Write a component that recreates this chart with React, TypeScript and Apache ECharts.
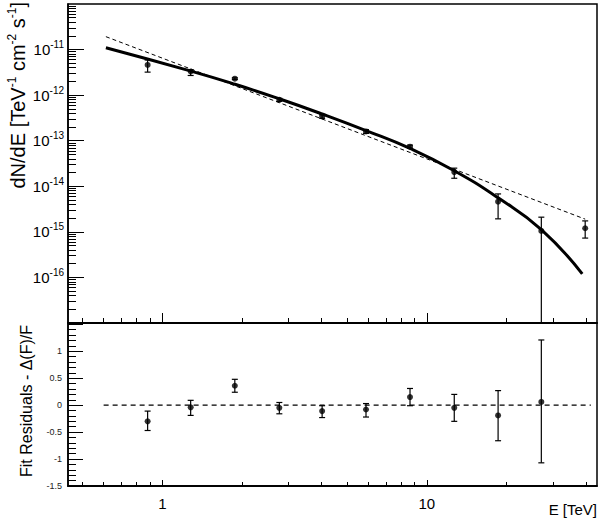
import React, { useEffect, useRef } from 'react';
import * as echarts from 'echarts';

// ---- data ----
const energy = [0.88, 1.28, 1.88, 2.77, 4.02, 5.89, 8.64, 12.7, 18.6, 27.1, 39.7];
const flux = [4.6e-12, 3.3e-12, 2.3e-12, 7.9e-13, 3.4e-13, 1.6e-13, 7.4e-14, 2.05e-14, 4.6e-15, 1.05e-15, 1.2e-15];
const fluxHigh = [5.9e-12, 3.6e-12, 2.4e-12, 8.5e-13, 3.7e-13, 1.75e-13, 8.0e-14, 2.5e-14, 6.8e-15, 2.1e-15, 1.74e-15];
const fluxLow = [3.2e-12, 2.7e-12, 2.2e-12, 7.3e-13, 3.1e-13, 1.45e-13, 6.8e-14, 1.5e-14, 1.93e-15, 0, 7.3e-16];

const residual = [-0.3, -0.04, 0.36, -0.05, -0.11, -0.08, 0.15, -0.05, -0.19, 0.06];
const residualHigh = [-0.11, 0.09, 0.48, 0.05, -0.01, 0.03, 0.31, 0.2, 0.27, 1.21];
const residualLow = [-0.47, -0.19, 0.24, -0.16, -0.23, -0.22, -0.01, -0.3, -0.66, -1.07];

const fitEnergy = [0.612, 1.284, 1.884, 2.766, 4.02, 5.89, 8.64, 12.7, 18.6, 27.1, 38.7];
const fitFlux = [1.1e-11, 3.37e-12, 1.73e-12, 8.32e-13, 3.86e-13, 1.67e-13, 6.76e-14, 2.19e-14, 5.58e-15, 1.12e-15, 1.2e-16];

const powerLawEnergy = [0.612, 39.7];
const powerLawFlux = [1.92e-11, 1.9e-15];

const zeroLineEnergy = [0.6, 41.7];

const xRange = [0.44, 44];
const yDecadeRange = [-17, -10];
const residualRange = [-1.5, 1.525];

const xMajorTicks = [1, 10];
const xMinorTicks = [0.5, 0.6, 0.7, 0.8, 0.9, 2, 3, 4, 5, 6, 7, 8, 9, 20, 30, 40];
const yLabelDecades = [-16, -15, -14, -13, -12, -11];
const decadeMultipliers = [2, 3, 4, 5, 6, 7, 8, 9];
const residualLabels = [-1.5, -1, -0.5, 0, 0.5, 1];
const residualMajorTicks = [-1.5, -1, -0.5, 0, 0.5, 1, 1.5];

const FONT = '"Liberation Sans", Arial, Helvetica, sans-serif';
const lg = Math.log10;

function xAxis(grid: number, ticks: number[], len: number, labels: boolean) {
  return {
    type: 'value',
    gridIndex: grid,
    position: 'bottom',
    min: lg(xRange[0]),
    max: lg(xRange[1]),
    axisLine: { show: true, onZero: false, lineStyle: { color: '#000', width: 1.5 } },
    axisTick: { show: true, inside: true, length: len, customValues: ticks.map(lg), lineStyle: { color: '#000', width: 1 } },
    axisLabel: labels
      ? {
          show: true,
          customValues: xMajorTicks.map(lg),
          formatter: (v: number) => String(Math.round(Math.pow(10, v))),
          fontFamily: FONT,
          fontSize: 15,
          color: '#000',
          margin: 10,
        }
      : { show: false },
    splitLine: { show: false },
  };
}

export default function App() {
  const ref = useRef<HTMLDivElement>(null);

  useEffect(() => {
    if (!ref.current) return;
    const chart = echarts.init(ref.current, undefined, { renderer: 'svg' });

    const yMinor: number[] = [];
    for (let d = yDecadeRange[0]; d < yDecadeRange[1]; d++) {
      decadeMultipliers.forEach((m) => yMinor.push(d + lg(m)));
    }
    const resMinor: number[] = [];
    for (let i = -14; i <= 15; i++) {
      if (i % 5 !== 0) resMinor.push(i / 10);
    }

    const errItem = (params: any, api: any) => {
      const x = api.value(0);
      const top = api.coord([x, api.value(1)]);
      const bot = api.coord([x, api.value(2)]);
      const capLow = api.value(3);
      const cw = 3;
      const style = { stroke: '#000', lineWidth: 1.2 };
      const children: any[] = [
        { type: 'line', shape: { x1: top[0], y1: top[1], x2: bot[0], y2: bot[1] }, style },
        { type: 'line', shape: { x1: top[0] - cw, y1: top[1], x2: top[0] + cw, y2: top[1] }, style },
      ];
      if (capLow) {
        children.push({ type: 'line', shape: { x1: bot[0] - cw, y1: bot[1], x2: bot[0] + cw, y2: bot[1] }, style });
      }
      return { type: 'group', children };
    };

    const fluxErr = energy.map((e, i) => [
      lg(e),
      lg(fluxHigh[i]),
      fluxLow[i] > 0 ? lg(fluxLow[i]) : yDecadeRange[0],
      fluxLow[i] > 0 ? 1 : 0,
    ]);
    const resErr = residual.map((r, i) => [lg(energy[i]), residualHigh[i], residualLow[i], 1]);

    const yBase = {
      type: 'value',
      position: 'left',
      splitLine: { show: false },
    };

    const option: any = {
      animation: false,
      backgroundColor: '#fff',
      textStyle: { fontFamily: FONT },
      grid: [
        { left: 68, top: 4, width: 529, height: 319, show: true, borderColor: '#000', borderWidth: 1.5, backgroundColor: 'transparent' },
        { left: 68, top: 323, width: 529, height: 163, show: true, borderColor: '#000', borderWidth: 1.5, backgroundColor: 'transparent' },
      ],
      xAxis: [
        xAxis(0, xMajorTicks, 10, false),
        xAxis(0, xMinorTicks, 5, false),
        xAxis(1, xMajorTicks, 6, true),
        xAxis(1, xMinorTicks, 4, false),
      ],
      yAxis: [
        {
          ...yBase,
          gridIndex: 0,
          min: yDecadeRange[0],
          max: yDecadeRange[1],
          axisLine: { show: true, onZero: false, lineStyle: { color: '#000', width: 1.5 } },
          axisTick: { show: true, inside: true, length: 16, customValues: yLabelDecades, lineStyle: { color: '#000', width: 1 } },
          axisLabel: {
            show: true,
            customValues: yLabelDecades,
            margin: 4,
            formatter: (v: number) => `{b|10}{s|${Math.round(v)}}`,
            rich: {
              b: { fontFamily: FONT, fontSize: 15, color: '#000' },
              s: { fontFamily: FONT, fontSize: 10, color: '#000', padding: [0, 0, 10, 0] },
            },
          },
        },
        {
          ...yBase,
          gridIndex: 0,
          min: yDecadeRange[0],
          max: yDecadeRange[1],
          axisLine: { show: false, onZero: false },
          axisTick: { show: true, inside: true, length: 8, customValues: yMinor, lineStyle: { color: '#000', width: 1 } },
          axisLabel: { show: false },
        },
        {
          ...yBase,
          gridIndex: 1,
          min: residualRange[0],
          max: residualRange[1],
          axisLine: { show: true, onZero: false, lineStyle: { color: '#000', width: 1.5 } },
          axisTick: { show: true, inside: true, length: 15, customValues: residualMajorTicks, lineStyle: { color: '#000', width: 1 } },
          axisLabel: {
            show: true,
            customValues: residualLabels,
            margin: 6,
            fontFamily: FONT,
            fontSize: 9,
            color: '#222',
            formatter: (v: number) => String(Math.round(v * 10) / 10),
          },
        },
        {
          ...yBase,
          gridIndex: 1,
          min: residualRange[0],
          max: residualRange[1],
          axisLine: { show: false, onZero: false },
          axisTick: { show: true, inside: true, length: 8, customValues: resMinor, lineStyle: { color: '#000', width: 1 } },
          axisLabel: { show: false },
        },
      ],
      series: [
        {
          type: 'line',
          xAxisIndex: 0,
          yAxisIndex: 0,
          data: powerLawEnergy.map((e, i) => [lg(e), lg(powerLawFlux[i])]),
          showSymbol: false,
          lineStyle: { color: '#000', width: 1, type: [4, 3] },
          silent: true,
        },
        {
          type: 'line',
          xAxisIndex: 0,
          yAxisIndex: 0,
          data: fitEnergy.map((e, i) => [lg(e), lg(fitFlux[i])]),
          showSymbol: false,
          smooth: 0.5,
          lineStyle: { color: '#000', width: 3 },
          silent: true,
        },
        {
          type: 'custom',
          xAxisIndex: 0,
          yAxisIndex: 0,
          data: fluxErr,
          encode: { x: 0, y: [1, 2] },
          renderItem: errItem,
          clip: true,
          silent: true,
        },
        {
          type: 'scatter',
          xAxisIndex: 0,
          yAxisIndex: 0,
          data: energy.map((e, i) => [lg(e), lg(flux[i])]),
          symbol: 'circle',
          symbolSize: 6,
          itemStyle: { color: '#000' },
          silent: true,
        },
        {
          type: 'line',
          xAxisIndex: 2,
          yAxisIndex: 2,
          data: zeroLineEnergy.map((e) => [lg(e), 0]),
          showSymbol: false,
          lineStyle: { color: '#000', width: 1.2, type: [5, 4] },
          silent: true,
        },
        {
          type: 'custom',
          xAxisIndex: 2,
          yAxisIndex: 2,
          data: resErr,
          encode: { x: 0, y: [1, 2] },
          renderItem: errItem,
          clip: true,
          silent: true,
        },
        {
          type: 'scatter',
          xAxisIndex: 2,
          yAxisIndex: 2,
          data: residual.map((r, i) => [lg(energy[i]), r]),
          symbol: 'circle',
          symbolSize: 6,
          itemStyle: { color: '#000' },
          silent: true,
        },
      ],
      graphic: [
        {
          type: 'text',
          x: 18,
          y: 2,
          rotation: Math.PI / 2,
          style: {
            text: '{a|dN/dE [TeV}{s|-1}{a| cm}{s|-2}{a| s}{s|-1}{a|]}',
            align: 'right',
            verticalAlign: 'middle',
            rich: {
              a: { fontFamily: FONT, fontSize: 20, fill: '#000' },
              s: { fontFamily: FONT, fontSize: 12, fill: '#000', padding: [0, 0, 12, 0] },
            },
          },
        },
        {
          type: 'text',
          x: 26,
          y: 325,
          rotation: Math.PI / 2,
          style: {
            text: 'Fit Residuals - \u0394(F)/F',
            align: 'right',
            verticalAlign: 'middle',
            fontFamily: FONT,
            fontSize: 16,
            fill: '#000',
          },
        },
        {
          type: 'text',
          x: 597,
          y: 509,
          style: {
            text: 'E [TeV]',
            align: 'right',
            verticalAlign: 'middle',
            fontFamily: FONT,
            fontSize: 15,
            fill: '#000',
          },
        },
      ],
    };

    chart.setOption(option);
    return () => chart.dispose();
  }, []);

  return <div ref={ref} style={{ position: 'fixed', left: 0, top: 0, width: 600, height: 519 }} />;
}
